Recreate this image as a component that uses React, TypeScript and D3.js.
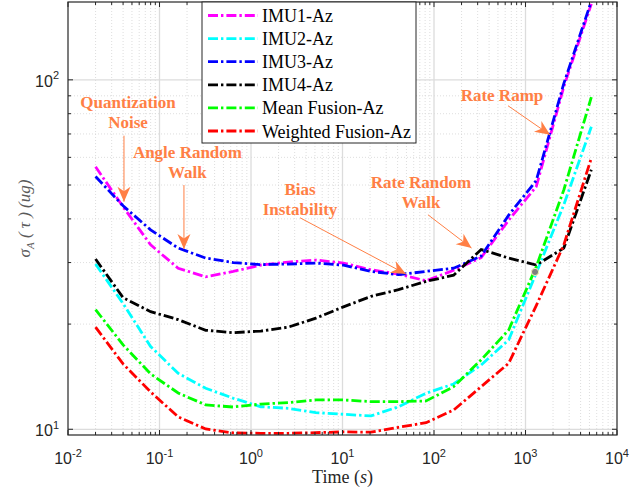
import React from "react";
import * as d3 from "d3";

// averaging times (s)
const tau = [0.02, 0.04, 0.08, 0.16, 0.32, 0.64, 1.28, 2.56, 5.12, 10.24, 20.48, 40.96, 81.92, 163.84, 327.68, 655.36, 1310.72, 2621.44, 5242.88];

// Allan deviation (ug)
const imu1 = [56.4, 43.3, 33.7, 28.9, 27.3, 28.3, 29.5, 30.1, 30.5, 29.9, 28.6, 27.8, 26.6, 28.5, 31.0, 39.7, 49.5, 95.5, 165];
const imu2 = [29.7, 22.9, 17.25, 14.46, 13.1, 12.27, 11.6, 11.48, 11.16, 11.04, 10.92, 11.6, 12.68, 13.48, 15.28, 18.02, 28.0, 43.9, 73.4];
const imu3 = [52.9, 43.6, 37.2, 33.0, 30.9, 30.0, 29.6, 29.7, 29.9, 29.5, 28.3, 27.7, 28.3, 28.9, 31.3, 41.0, 51.5, 97.5, 168];
const imu4 = [30.7, 23.8, 21.7, 20.6, 19.2, 18.9, 19.1, 19.6, 20.8, 22.4, 24.0, 25.1, 26.5, 27.6, 32.7, 30.9, 29.5, 33.0, 55.3];
const meanFusion = [22.0, 17.44, 14.4, 12.7, 11.74, 11.58, 11.81, 11.92, 12.13, 12.13, 12.0, 12.0, 12.05, 13.24, 15.8, 19.24, 29.2, 48.4, 89.2];
const weightedFusion = [19.6, 15.38, 12.79, 10.85, 10.02, 9.76, 9.74, 9.74, 9.78, 9.83, 9.81, 10.13, 10.44, 11.35, 13.24, 15.45, 22.6, 33.7, 59.7];

const seriesNames = ["IMU1-Az", "IMU2-Az", "IMU3-Az", "IMU4-Az", "Mean Fusion-Az", "Weighted Fusion-Az"];
const seriesValues = [imu1, imu2, imu3, imu4, meanFusion, weightedFusion];
const seriesColors = ["#ff00ff", "#00ffff", "#0000ff", "#000000", "#00ff00", "#ff0000"];

const xTicks = [1e-2, 1e-1, 1e0, 1e1, 1e2, 1e3, 1e4];
const xTickExp = ["-2", "-1", "0", "1", "2", "3", "4"];
const yTicks = [10, 100];
const yTickExp = ["1", "2"];

// annotation labels [tau, sigma, line1, line2]
const noteLabels: [number, number, string, string][] = [
  [0.0453, 83.1, "Quantization", "Noise"],
  [0.202, 59.8, "Angle Random", "Walk"],
  [3.43, 46.9, "Bias", "Instability"],
  [72.1, 49.1, "Rate Random", "Walk"],
  [553, 86.7, "Rate Ramp", ""],
];
// arrows [tau0, sigma0, tau1, sigma1]
const noteArrows: [number, number, number, number][] = [
  [0.0409, 69.2, 0.0409, 44.8],
  [0.185, 50.0, 0.185, 32.8],
  [3.43, 40.3, 49.4, 27.8],
  [85.9, 41.1, 257, 33.0],
  [644, 84.3, 1854, 69.6],
];
const markerPoint = [1271, 28.2];

const W = 630;
const H = 492;
const left = 68, right = 617, top = 2, bottom = 435;
const orange = "#ff7f45";
const axisColor = "#262626";
const dash = "10,3,2.4,3";
const serif = "'Liberation Serif', 'Times New Roman', Times, serif";

export default function App() {
  const x = d3.scaleLog().domain([1e-2, 1e4]).range([left, right]);
  const y = d3.scaleLog().domain([9.63, 167]).range([bottom, top]);

  const xMinor: number[] = [];
  for (let d = -2; d < 4; d++) for (let m = 2; m <= 9; m++) xMinor.push(m * Math.pow(10, d));
  const yMinor = [20, 30, 40, 50, 60, 70, 80, 90];

  const line = d3
    .line<number>()
    .x((_, i) => x(tau[i]))
    .y((v) => y(v));

  const arrowHead = (x0: number, y0: number, x1: number, y1: number) => {
    const a = Math.atan2(y1 - y0, x1 - x0);
    const L = 15, w = 6.5;
    const bx = x1 - L * Math.cos(a), by = y1 - L * Math.sin(a);
    const nx = x1 - L * 0.7 * Math.cos(a), ny = y1 - L * 0.7 * Math.sin(a);
    const px = -Math.sin(a), py = Math.cos(a);
    return [
      [x1, y1],
      [bx + px * w, by + py * w],
      [nx, ny],
      [bx - px * w, by - py * w],
    ]
      .map((p) => p.join(","))
      .join(" ");
  };

  return (
    <svg width={W} height={H} style={{ position: "absolute", left: 0, top: 0, background: "#fff" }}>
      <defs>
        <clipPath id="plot">
          <rect x={left} y={top} width={right - left} height={bottom - top} />
        </clipPath>
      </defs>
      <rect x={0} y={0} width={W} height={H} fill="#fff" />

      {/* minor grid */}
      <g stroke="#d6d6d6" strokeWidth={0.8} strokeDasharray="1,2">
        {xMinor.map((t) => (
          <line key={"xm" + t} x1={x(t)} x2={x(t)} y1={top} y2={bottom} />
        ))}
        {yMinor.map((v) => (
          <line key={"ym" + v} x1={left} x2={right} y1={y(v)} y2={y(v)} />
        ))}
      </g>
      {/* major grid */}
      <g stroke="#dcdcdc" strokeWidth={1.3}>
        {xTicks.slice(1, -1).map((t) => (
          <line key={"xg" + t} x1={x(t)} x2={x(t)} y1={top} y2={bottom} />
        ))}
        {yTicks.map((v) => (
          <line key={"yg" + v} x1={left} x2={right} y1={y(v)} y2={y(v)} />
        ))}
      </g>

      {/* series */}
      <g clipPath="url(#plot)" fill="none" strokeWidth={2.8} strokeDasharray={dash}>
        {seriesValues.map((vals, i) => (
          <path key={seriesNames[i]} d={line(vals) || ""} stroke={seriesColors[i]} />
        ))}
      </g>
      <circle cx={x(markerPoint[0])} cy={y(markerPoint[1])} r={3.6} fill="#808080" stroke="#f4f4b0" strokeWidth={1} />

      {/* ticks */}
      <g stroke={axisColor} strokeWidth={1}>
        {xTicks.map((t) => (
          <g key={"xt" + t}>
            <line x1={x(t)} x2={x(t)} y1={bottom} y2={bottom - 5} />
            <line x1={x(t)} x2={x(t)} y1={top} y2={top + 5} />
          </g>
        ))}
        {xMinor.map((t) => (
          <g key={"xmt" + t}>
            <line x1={x(t)} x2={x(t)} y1={bottom} y2={bottom - 3} />
            <line x1={x(t)} x2={x(t)} y1={top} y2={top + 3} />
          </g>
        ))}
        {yTicks.map((v) => (
          <g key={"yt" + v}>
            <line x1={left} x2={left + 5} y1={y(v)} y2={y(v)} />
            <line x1={right} x2={right - 5} y1={y(v)} y2={y(v)} />
          </g>
        ))}
        {yMinor.map((v) => (
          <g key={"ymt" + v}>
            <line x1={left} x2={left + 3} y1={y(v)} y2={y(v)} />
            <line x1={right} x2={right - 3} y1={y(v)} y2={y(v)} />
          </g>
        ))}
      </g>
      <rect x={left} y={top} width={right - left} height={bottom - top} fill="none" stroke={axisColor} strokeWidth={1.2} />

      {/* tick labels */}
      <g fontFamily="'Liberation Sans', Arial, sans-serif" fill={axisColor}>
        {xTicks.map((t, i) => (
          <text key={"xl" + t} x={x(t)} y={464} textAnchor="middle" fontSize={16}>
            <tspan>10</tspan>
            <tspan dy={-7.5} fontSize={11}>{xTickExp[i]}</tspan>
          </text>
        ))}
        {yTicks.map((v, i) => (
          <text key={"yl" + v} x={59} y={y(v) + 7} textAnchor="end" fontSize={16}>
            <tspan>10</tspan>
            <tspan dy={-7.5} fontSize={11}>{yTickExp[i]}</tspan>
          </text>
        ))}
      </g>

      {/* axis titles */}
      <text x={(left + right) / 2} y={483} textAnchor="middle" fontFamily={serif} fontSize={18} fill={axisColor}>
        Time (<tspan fontStyle="italic">s</tspan>)
      </text>
      <text
        transform={`translate(30,${(top + bottom) / 2}) rotate(-90)`}
        textAnchor="middle"
        fontFamily={serif}
        fontSize={17}
        fill="#5a5a5a"
        fontStyle="italic"
      >
        σ<tspan fontSize={11} dy={4}>A</tspan>
        <tspan dy={-4}> ( τ ) (ug)</tspan>
      </text>

      {/* annotations */}
      <g fontFamily={serif} fontWeight="bold" fontSize={17} fill={orange} textAnchor="middle">
        {noteLabels.map(([t, v, l1, l2]) => (
          <text key={l1 + t} x={x(t)} y={y(v)}>
            <tspan x={x(t)}>{l1}</tspan>
            {l2 && (
              <tspan x={x(t)} dy={20}>
                {l2}
              </tspan>
            )}
          </text>
        ))}
      </g>
      <g>
        {noteArrows.map(([t0, v0, t1, v1], i) => {
          const x0 = x(t0), y0 = y(v0), x1 = x(t1), y1 = y(v1);
          return (
            <g key={"ar" + i}>
              <line x1={x0} y1={y0} x2={x1} y2={y1} stroke={orange} strokeWidth={1} />
              <polygon points={arrowHead(x0, y0, x1, y1)} fill={orange} />
            </g>
          );
        })}
      </g>

      {/* legend */}
      <g>
        <rect x={202} y={top} width={214} height={141} fill="#fff" stroke={axisColor} strokeWidth={1} />
        {seriesNames.map((name, i) => {
          const ly = 15.5 + i * 23.1;
          return (
            <g key={"lg" + name}>
              <line x1={208} x2={258} y1={ly} y2={ly} stroke={seriesColors[i]} strokeWidth={2.8} strokeDasharray={dash} />
              <text x={262} y={ly + 6.5} fontFamily={serif} fontSize={18} fill="#000">
                {name}
              </text>
            </g>
          );
        })}
      </g>
    </svg>
  );
}
